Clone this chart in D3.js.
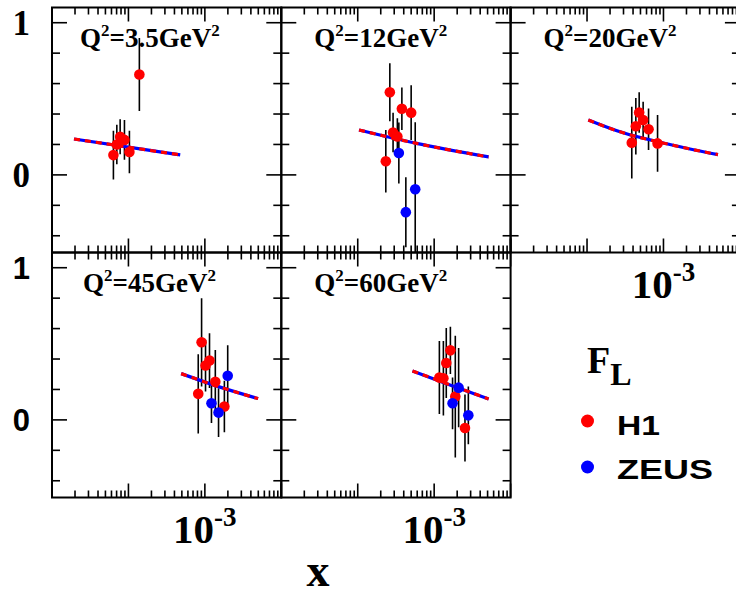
<!DOCTYPE html>
<html><head><meta charset="utf-8">
<script src="https://cdn.jsdelivr.net/npm/d3@7"></script>
<style>body{margin:0;background:#fff}svg{display:block}</style>
</head><body>
<svg id="c" width="736" height="598"></svg>
<script>
// ---------------- data ----------------
const q2Labels = ["3.5", "12", "20", "45", "60"];

const h1X = [
  [6.36e-5, 7.05e-5, 7.79e-5, 8.87e-5, 1.03e-4, 1.39e-4],
  [2.33e-4, 2.63e-4, 2.90e-4, 3.30e-4, 3.78e-4, 5.00e-4],
  [3.85e-4, 4.35e-4, 4.81e-4, 5.42e-4, 6.38e-4, 8.37e-4],
  [8.19e-4, 9.06e-4, 1.02e-3, 1.15e-3, 1.37e-3, 1.80e-3],
  [1.17e-3, 1.32e-3, 1.44e-3, 1.63e-3, 1.89e-3, 2.53e-3]
];
const h1Y = [
  [0.13, 0.20, 0.25, 0.23, 0.15, 0.66],
  [0.09, 0.543, 0.278, 0.252, 0.435, 0.409],
  [0.212, 0.32, 0.41, 0.36, 0.30, 0.207],
  [0.171, 0.51, 0.357, 0.39, 0.25, 0.088],
  [0.278, 0.274, 0.374, 0.457, 0.153, -0.053]
];
const h1Err = [
  [0.16, 0.13, 0.115, 0.13, 0.14, 0.24],
  [0.205, 0.19, 0.13, 0.12, 0.14, 0.18],
  [0.235, 0.186, 0.133, 0.12, 0.137, 0.186],
  [0.26, 0.29, 0.17, 0.18, 0.21, 0.17],
  [0.24, 0.245, 0.23, 0.155, 0.40, 0.22]
];

const zeusX = [
  [],
  [3.45e-4, 4.26e-4, 5.65e-4],
  [],
  [1.22e-3, 1.51e-3, 1.99e-3],
  [1.74e-3, 2.09e-3, 2.80e-3]
];
const zeusY = [
  [],
  [0.144, -0.245, -0.094],
  [],
  [0.109, 0.048, 0.29],
  [0.109, 0.212, 0.03]
];
const zeusErr = [
  [],
  [0.2, 0.23, 0.44],
  [],
  [0.13, 0.16, 0.2],
  [0.17, 0.26, 0.19]
];

const fitX = [
  [1.94e-5, 9.5e-5, 4.76e-4],
  [1.04e-4, 5.88e-4, 5.16e-3],
  [1.04e-4, 2.91e-4, 1.02e-3, 5.16e-3],
  [4.9e-4, 1.44e-3, 4.97e-3],
  [5.2e-4, 1.61e-3, 5.16e-3]
];
const fitY = [
  [0.236, 0.184, 0.131],
  [0.295, 0.207, 0.118],
  [0.361, 0.278, 0.208, 0.133],
  [0.304, 0.222, 0.14],
  [0.322, 0.23, 0.138]
];

const xDomain = [1e-5, 1e-2];
const yDomain = [-0.51, 1.1];
const yMajor = [0, 1];
const yMinor = [-0.4, -0.2, 0.2, 0.4, 0.6, 0.8];
const xLabelTick = 1e-3;
const legendNames = ["H1", "ZEUS"];

// ---------------- layout ----------------
const svg = d3.select("#c");
const L0 = 52, PW = 229.3, T0 = 7.5, PH = 245;
const RED = "#ff0000", BLUE = "#0000ff";
const serif = "'Liberation Serif','Times New Roman',serif";
const sans = "'Liberation Sans',Arial,sans-serif";
const panels = [
  {c: 0, r: 0}, {c: 1, r: 0}, {c: 2, r: 0}, {c: 0, r: 1}, {c: 1, r: 1}
];
const labelDx = [28, 33, 33, 31, 33];
const xLabelPanels = [2, 3, 4];

// minor log ticks
const xMajor = [1e-5, 1e-4, 1e-3, 1e-2];
const xMinor = [];
[1e-5, 1e-4, 1e-3].forEach(d => { for (let k = 2; k <= 9; k++) xMinor.push(d * k); });

const gAll = svg.append("g");

panels.forEach((p, i) => {
  const left = L0 + p.c * PW, top = T0 + p.r * PH;
  const x = d3.scaleLog().domain(xDomain).range([left, left + PW]);
  const y = d3.scaleLinear().domain(yDomain).range([top + PH, top]);
  const g = gAll.append("g");

  const clipId = "clip" + i;
  svg.append("clipPath").attr("id", clipId).append("rect")
    .attr("x", left).attr("y", top).attr("width", PW).attr("height", PH);

  // ticks
  const tk = g.append("g").attr("stroke", "#000").attr("stroke-width", 1.6);
  xMajor.concat(xMinor).forEach(v => {
    const len = xMajor.includes(v) ? 14 : 7;
    tk.append("line").attr("x1", x(v)).attr("x2", x(v)).attr("y1", top).attr("y2", top + len);
    tk.append("line").attr("x1", x(v)).attr("x2", x(v)).attr("y1", top + PH).attr("y2", top + PH - len);
  });
  yMajor.concat(yMinor).forEach(v => {
    const len = yMajor.includes(v) ? 15 : 8;
    tk.append("line").attr("x1", left).attr("x2", left + len).attr("y1", y(v)).attr("y2", y(v));
    tk.append("line").attr("x1", left + PW).attr("x2", left + PW - len).attr("y1", y(v)).attr("y2", y(v));
  });

  // frame
  g.append("rect").attr("x", left).attr("y", top).attr("width", PW).attr("height", PH)
    .attr("fill", "none").attr("stroke", "#000").attr("stroke-width", 2);

  const plot = g.append("g").attr("clip-path", `url(#${clipId})`);

  // error bars
  const eb = plot.append("g").attr("stroke", "#000").attr("stroke-width", 1.6);
  h1X[i].forEach((xv, j) => {
    eb.append("line").attr("x1", x(xv)).attr("x2", x(xv))
      .attr("y1", y(h1Y[i][j] + h1Err[i][j])).attr("y2", y(h1Y[i][j] - h1Err[i][j]));
  });
  zeusX[i].forEach((xv, j) => {
    eb.append("line").attr("x1", x(xv)).attr("x2", x(xv))
      .attr("y1", y(zeusY[i][j] + zeusErr[i][j])).attr("y2", y(zeusY[i][j] - zeusErr[i][j]));
  });

  // fit curve: blue solid under red dashed
  const line = d3.line().x(d => x(d[0])).y(d => y(d[1])).curve(d3.curveMonotoneX);
  const pts = fitX[i].map((xv, j) => [xv, fitY[i][j]]);
  plot.append("path").attr("d", line(pts)).attr("fill", "none")
    .attr("stroke", BLUE).attr("stroke-width", 3.2);
  plot.append("path").attr("d", line(pts)).attr("fill", "none")
    .attr("stroke", RED).attr("stroke-width", 3.2).attr("stroke-dasharray", "6,5");

  // points
  h1X[i].forEach((xv, j) => {
    plot.append("circle").attr("cx", x(xv)).attr("cy", y(h1Y[i][j])).attr("r", 5.3).attr("fill", RED);
  });
  zeusX[i].forEach((xv, j) => {
    plot.append("circle").attr("cx", x(xv)).attr("cy", y(zeusY[i][j])).attr("r", 5.3).attr("fill", BLUE);
  });

  // Q2 label
  const t = g.append("text").attr("x", left + labelDx[i]).attr("y", top + 39.5)
    .attr("font-family", serif).attr("font-weight", "bold").attr("font-size", 27);
  t.append("tspan").text("Q");
  t.append("tspan").attr("font-size", 17).attr("dy", -11).text("2");
  t.append("tspan").attr("dy", 11).text("=" + q2Labels[i] + "GeV");
  t.append("tspan").attr("font-size", 17).attr("dy", -11).text("2");

  // y tick labels on left column
  if (p.c === 0) {
    yMajor.forEach(v => {
      g.append("text").attr("x", 30).attr("y", y(v) + (p.r === 0 ? 12.5 : 11.5))
        .attr("text-anchor", "end")
        .attr("font-family", p.r === 0 ? serif : sans).attr("font-weight", "bold")
        .attr("font-size", p.r === 0 ? 35 : 31).text(d3.format("d")(v));
    });
  }

  // x tick label 10^-3
  if (xLabelPanels.includes(i)) {
    const lt = g.append("text").attr("x", x(xLabelTick)).attr("y", top + PH + 45)
      .attr("text-anchor", "middle")
      .attr("font-family", serif).attr("font-weight", "bold").attr("font-size", 41);
    lt.append("tspan").text("10");
    lt.append("tspan").attr("font-size", 27).attr("dy", -17).text("-" + Math.round(-Math.log10(xLabelTick)));
  }
});

// axis title
svg.append("text").attr("x", 318).attr("y", 586).attr("text-anchor", "middle")
  .attr("font-family", serif).attr("font-weight", "bold").attr("font-size", 46).text("x");

// legend
const lg = svg.append("g");
const fl = lg.append("text").attr("x", 587).attr("y", 373)
  .attr("font-family", serif).attr("font-weight", "bold").attr("font-size", 38);
fl.append("tspan").text("F");
fl.append("tspan").attr("font-size", 32).attr("dy", 12).text("L");

[RED, BLUE].forEach((col, k) => {
  lg.append("circle").attr("cx", 587.5).attr("cy", 421 + k * 46).attr("r", 6.5).attr("fill", col);
  lg.append("text").attr("x", 617).attr("y", 435 + k * 43.5)
    .attr("font-family", sans).attr("font-weight", "bold").attr("font-size", 28)
    .attr("textLength", k === 0 ? 43 : 96).attr("lengthAdjust", "spacingAndGlyphs")
    .text(legendNames[k]);
});
</script>
</body></html>
